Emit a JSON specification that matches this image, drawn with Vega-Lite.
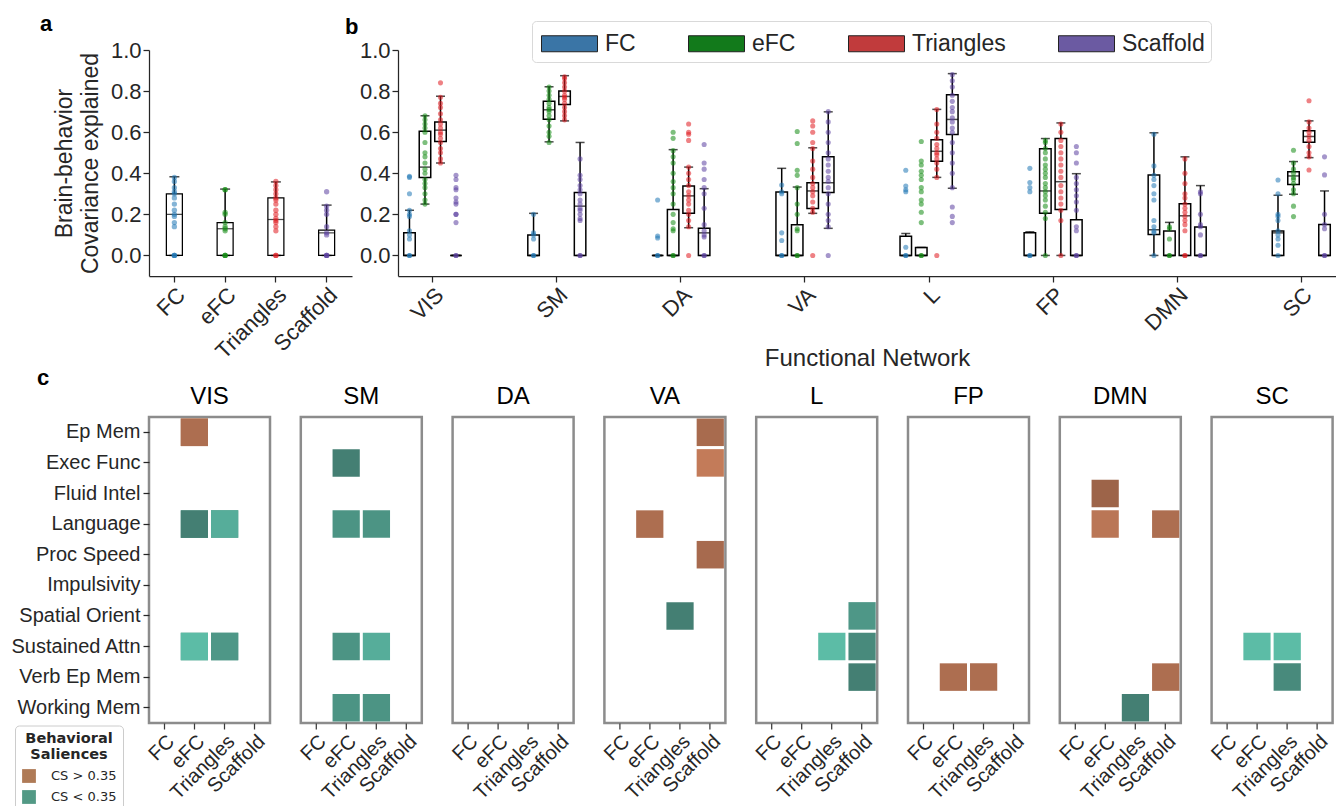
{
"$schema": "https://vega.github.io/schema/vega-lite/v6.json",
"background": "white",
"padding": {"left": 8, "top": 13, "right": 0, "bottom": 0},
"config": {
  "font": "Liberation Sans",
  "view": {"stroke": "#8c8c8c", "strokeWidth": 2.5},
  "axis": {"labelColor": "#262626", "titleColor": "#262626", "tickColor": "#262626", "domainColor": "#262626", "grid": false, "labelFont": "Liberation Sans", "titleFont": "Liberation Sans", "titleFontWeight": "normal", "tickWidth": 1.25, "domainWidth": 1.25, "tickSize": 6},
  "title": {"font": "Liberation Sans", "color": "#000000"},
  "legend": {"labelFont": "Liberation Sans", "titleFont": "Liberation Sans"}
},
"datasets": {
  "boxesA": [
    {"method": "FC", "lower": 0, "q1": 0, "median": 0.2, "q3": 0.3, "upper": 0.383},
    {"method": "eFC", "lower": 0, "q1": 0, "median": 0.13, "q3": 0.16, "upper": 0.323},
    {"method": "Triangles", "lower": 0, "q1": 0, "median": 0.175, "q3": 0.28, "upper": 0.358},
    {"method": "Scaffold", "lower": 0, "q1": 0, "median": 0.11, "q3": 0.123, "upper": 0.245}
  ],
  "ptsA": [
    {"method": "FC", "v": 0}, {"method": "FC", "v": 0}, {"method": "FC", "v": 0}, {"method": "FC", "v": 0.14}, {"method": "FC", "v": 0.16}, {"method": "FC", "v": 0.19}, {"method": "FC", "v": 0.2}, {"method": "FC", "v": 0.22}, {"method": "FC", "v": 0.25}, {"method": "FC", "v": 0.28}, {"method": "FC", "v": 0.3}, {"method": "FC", "v": 0.31}, {"method": "FC", "v": 0.33}, {"method": "FC", "v": 0.36}, {"method": "FC", "v": 0.38},
    {"method": "eFC", "v": 0}, {"method": "eFC", "v": 0}, {"method": "eFC", "v": 0}, {"method": "eFC", "v": 0.12}, {"method": "eFC", "v": 0.13}, {"method": "eFC", "v": 0.14}, {"method": "eFC", "v": 0.16}, {"method": "eFC", "v": 0.2}, {"method": "eFC", "v": 0.21}, {"method": "eFC", "v": 0.32}, {"method": "eFC", "v": 0.32},
    {"method": "Triangles", "v": 0}, {"method": "Triangles", "v": 0}, {"method": "Triangles", "v": 0.12}, {"method": "Triangles", "v": 0.14}, {"method": "Triangles", "v": 0.16}, {"method": "Triangles", "v": 0.17}, {"method": "Triangles", "v": 0.18}, {"method": "Triangles", "v": 0.2}, {"method": "Triangles", "v": 0.22}, {"method": "Triangles", "v": 0.25}, {"method": "Triangles", "v": 0.27}, {"method": "Triangles", "v": 0.28}, {"method": "Triangles", "v": 0.3}, {"method": "Triangles", "v": 0.32}, {"method": "Triangles", "v": 0.34}, {"method": "Triangles", "v": 0.36},
    {"method": "Scaffold", "v": 0}, {"method": "Scaffold", "v": 0}, {"method": "Scaffold", "v": 0}, {"method": "Scaffold", "v": 0.1}, {"method": "Scaffold", "v": 0.11}, {"method": "Scaffold", "v": 0.14}, {"method": "Scaffold", "v": 0.2}, {"method": "Scaffold", "v": 0.22}, {"method": "Scaffold", "v": 0.24}, {"method": "Scaffold", "v": 0.31}
  ],
  "boxes": [
    {"net": "VIS", "method": "FC", "lower": 0, "q1": 0, "median": 0, "q3": 0.11, "upper": 0.22},
    {"net": "VIS", "method": "eFC", "lower": 0.25, "q1": 0.38, "median": 0.43, "q3": 0.605, "upper": 0.68},
    {"net": "VIS", "method": "Triangles", "lower": 0.45, "q1": 0.555, "median": 0.61, "q3": 0.65, "upper": 0.775},
    {"net": "VIS", "method": "Scaffold", "lower": 0, "q1": 0, "median": 0, "q3": 0, "upper": 0},
    {"net": "SM", "method": "FC", "lower": 0, "q1": 0, "median": 0, "q3": 0.1, "upper": 0.205},
    {"net": "SM", "method": "eFC", "lower": 0.553, "q1": 0.663, "median": 0.709, "q3": 0.75, "upper": 0.821},
    {"net": "SM", "method": "Triangles", "lower": 0.655, "q1": 0.735, "median": 0.774, "q3": 0.8, "upper": 0.875},
    {"net": "SM", "method": "Scaffold", "lower": 0, "q1": 0, "median": 0.24, "q3": 0.306, "upper": 0.55},
    {"net": "DA", "method": "FC", "lower": 0, "q1": 0, "median": 0, "q3": 0, "upper": 0},
    {"net": "DA", "method": "eFC", "lower": 0, "q1": 0, "median": 0, "q3": 0.224, "upper": 0.515},
    {"net": "DA", "method": "Triangles", "lower": 0.135, "q1": 0.205, "median": 0.29, "q3": 0.338, "upper": 0.43},
    {"net": "DA", "method": "Scaffold", "lower": 0, "q1": 0, "median": 0.11, "q3": 0.132, "upper": 0.325},
    {"net": "VA", "method": "FC", "lower": 0, "q1": 0, "median": 0, "q3": 0.309, "upper": 0.424},
    {"net": "VA", "method": "eFC", "lower": 0, "q1": 0, "median": 0, "q3": 0.15, "upper": 0.333},
    {"net": "VA", "method": "Triangles", "lower": 0.205, "q1": 0.229, "median": 0.314, "q3": 0.354, "upper": 0.524},
    {"net": "VA", "method": "Scaffold", "lower": 0.132, "q1": 0.306, "median": 0.354, "q3": 0.48, "upper": 0.699},
    {"net": "L", "method": "FC", "lower": 0, "q1": 0, "median": 0, "q3": 0.094, "upper": 0.107},
    {"net": "L", "method": "eFC", "lower": 0, "q1": 0, "median": 0, "q3": 0.039, "upper": 0.039},
    {"net": "L", "method": "Triangles", "lower": 0.38, "q1": 0.459, "median": 0.507, "q3": 0.563, "upper": 0.711},
    {"net": "L", "method": "Scaffold", "lower": 0.327, "q1": 0.589, "median": 0.662, "q3": 0.782, "upper": 0.885},
    {"net": "FP", "method": "FC", "lower": 0, "q1": 0, "median": 0, "q3": 0.11, "upper": 0.115},
    {"net": "FP", "method": "eFC", "lower": 0, "q1": 0.205, "median": 0.314, "q3": 0.519, "upper": 0.569},
    {"net": "FP", "method": "Triangles", "lower": 0, "q1": 0.224, "median": 0.359, "q3": 0.569, "upper": 0.645},
    {"net": "FP", "method": "Scaffold", "lower": 0, "q1": 0, "median": 0, "q3": 0.174, "upper": 0.398},
    {"net": "DMN", "method": "FC", "lower": 0, "q1": 0.102, "median": 0.125, "q3": 0.392, "upper": 0.597},
    {"net": "DMN", "method": "eFC", "lower": 0, "q1": 0, "median": 0, "q3": 0.119, "upper": 0.161},
    {"net": "DMN", "method": "Triangles", "lower": 0, "q1": 0, "median": 0.193, "q3": 0.252, "upper": 0.48},
    {"net": "DMN", "method": "Scaffold", "lower": 0, "q1": 0, "median": 0, "q3": 0.138, "upper": 0.34},
    {"net": "SC", "method": "FC", "lower": 0, "q1": 0, "median": 0.11, "q3": 0.119, "upper": 0.293},
    {"net": "SC", "method": "eFC", "lower": 0.298, "q1": 0.345, "median": 0.387, "q3": 0.408, "upper": 0.457},
    {"net": "SC", "method": "Triangles", "lower": 0.476, "q1": 0.551, "median": 0.579, "q3": 0.607, "upper": 0.655},
    {"net": "SC", "method": "Scaffold", "lower": 0, "q1": 0, "median": 0, "q3": 0.151, "upper": 0.314}
  ],
  "pts": [
    {"net": "VIS", "method": "FC", "v": 0}, {"net": "VIS", "method": "FC", "v": 0}, {"net": "VIS", "method": "FC", "v": 0.08}, {"net": "VIS", "method": "FC", "v": 0.1}, {"net": "VIS", "method": "FC", "v": 0.12}, {"net": "VIS", "method": "FC", "v": 0.19}, {"net": "VIS", "method": "FC", "v": 0.2}, {"net": "VIS", "method": "FC", "v": 0.22}, {"net": "VIS", "method": "FC", "v": 0.3}, {"net": "VIS", "method": "FC", "v": 0.38}, {"net": "VIS", "method": "FC", "v": 0.385},
    {"net": "VIS", "method": "eFC", "v": 0.25}, {"net": "VIS", "method": "eFC", "v": 0.27}, {"net": "VIS", "method": "eFC", "v": 0.3}, {"net": "VIS", "method": "eFC", "v": 0.33}, {"net": "VIS", "method": "eFC", "v": 0.35}, {"net": "VIS", "method": "eFC", "v": 0.37}, {"net": "VIS", "method": "eFC", "v": 0.4}, {"net": "VIS", "method": "eFC", "v": 0.42}, {"net": "VIS", "method": "eFC", "v": 0.45}, {"net": "VIS", "method": "eFC", "v": 0.48}, {"net": "VIS", "method": "eFC", "v": 0.5}, {"net": "VIS", "method": "eFC", "v": 0.55}, {"net": "VIS", "method": "eFC", "v": 0.6}, {"net": "VIS", "method": "eFC", "v": 0.62}, {"net": "VIS", "method": "eFC", "v": 0.64}, {"net": "VIS", "method": "eFC", "v": 0.66}, {"net": "VIS", "method": "eFC", "v": 0.68},
    {"net": "VIS", "method": "Triangles", "v": 0.45}, {"net": "VIS", "method": "Triangles", "v": 0.47}, {"net": "VIS", "method": "Triangles", "v": 0.5}, {"net": "VIS", "method": "Triangles", "v": 0.52}, {"net": "VIS", "method": "Triangles", "v": 0.55}, {"net": "VIS", "method": "Triangles", "v": 0.57}, {"net": "VIS", "method": "Triangles", "v": 0.59}, {"net": "VIS", "method": "Triangles", "v": 0.6}, {"net": "VIS", "method": "Triangles", "v": 0.62}, {"net": "VIS", "method": "Triangles", "v": 0.64}, {"net": "VIS", "method": "Triangles", "v": 0.66}, {"net": "VIS", "method": "Triangles", "v": 0.69}, {"net": "VIS", "method": "Triangles", "v": 0.72}, {"net": "VIS", "method": "Triangles", "v": 0.74}, {"net": "VIS", "method": "Triangles", "v": 0.77}, {"net": "VIS", "method": "Triangles", "v": 0.84},
    {"net": "VIS", "method": "Scaffold", "v": 0}, {"net": "VIS", "method": "Scaffold", "v": 0}, {"net": "VIS", "method": "Scaffold", "v": 0.16}, {"net": "VIS", "method": "Scaffold", "v": 0.2}, {"net": "VIS", "method": "Scaffold", "v": 0.2}, {"net": "VIS", "method": "Scaffold", "v": 0.25}, {"net": "VIS", "method": "Scaffold", "v": 0.26}, {"net": "VIS", "method": "Scaffold", "v": 0.28}, {"net": "VIS", "method": "Scaffold", "v": 0.32}, {"net": "VIS", "method": "Scaffold", "v": 0.33}, {"net": "VIS", "method": "Scaffold", "v": 0.37}, {"net": "VIS", "method": "Scaffold", "v": 0.39},
    {"net": "SM", "method": "FC", "v": 0}, {"net": "SM", "method": "FC", "v": 0}, {"net": "SM", "method": "FC", "v": 0.08}, {"net": "SM", "method": "FC", "v": 0.1}, {"net": "SM", "method": "FC", "v": 0.11}, {"net": "SM", "method": "FC", "v": 0.2},
    {"net": "SM", "method": "eFC", "v": 0.55}, {"net": "SM", "method": "eFC", "v": 0.58}, {"net": "SM", "method": "eFC", "v": 0.6}, {"net": "SM", "method": "eFC", "v": 0.63}, {"net": "SM", "method": "eFC", "v": 0.66}, {"net": "SM", "method": "eFC", "v": 0.68}, {"net": "SM", "method": "eFC", "v": 0.7}, {"net": "SM", "method": "eFC", "v": 0.71}, {"net": "SM", "method": "eFC", "v": 0.72}, {"net": "SM", "method": "eFC", "v": 0.74}, {"net": "SM", "method": "eFC", "v": 0.76}, {"net": "SM", "method": "eFC", "v": 0.78}, {"net": "SM", "method": "eFC", "v": 0.8}, {"net": "SM", "method": "eFC", "v": 0.82},
    {"net": "SM", "method": "Triangles", "v": 0.66}, {"net": "SM", "method": "Triangles", "v": 0.68}, {"net": "SM", "method": "Triangles", "v": 0.7}, {"net": "SM", "method": "Triangles", "v": 0.72}, {"net": "SM", "method": "Triangles", "v": 0.74}, {"net": "SM", "method": "Triangles", "v": 0.76}, {"net": "SM", "method": "Triangles", "v": 0.77}, {"net": "SM", "method": "Triangles", "v": 0.78}, {"net": "SM", "method": "Triangles", "v": 0.8}, {"net": "SM", "method": "Triangles", "v": 0.82}, {"net": "SM", "method": "Triangles", "v": 0.84}, {"net": "SM", "method": "Triangles", "v": 0.86}, {"net": "SM", "method": "Triangles", "v": 0.87},
    {"net": "SM", "method": "Scaffold", "v": 0}, {"net": "SM", "method": "Scaffold", "v": 0}, {"net": "SM", "method": "Scaffold", "v": 0.17}, {"net": "SM", "method": "Scaffold", "v": 0.18}, {"net": "SM", "method": "Scaffold", "v": 0.2}, {"net": "SM", "method": "Scaffold", "v": 0.22}, {"net": "SM", "method": "Scaffold", "v": 0.23}, {"net": "SM", "method": "Scaffold", "v": 0.25}, {"net": "SM", "method": "Scaffold", "v": 0.27}, {"net": "SM", "method": "Scaffold", "v": 0.3}, {"net": "SM", "method": "Scaffold", "v": 0.32}, {"net": "SM", "method": "Scaffold", "v": 0.34}, {"net": "SM", "method": "Scaffold", "v": 0.37}, {"net": "SM", "method": "Scaffold", "v": 0.39}, {"net": "SM", "method": "Scaffold", "v": 0.47},
    {"net": "DA", "method": "FC", "v": 0}, {"net": "DA", "method": "FC", "v": 0}, {"net": "DA", "method": "FC", "v": 0.085}, {"net": "DA", "method": "FC", "v": 0.095}, {"net": "DA", "method": "FC", "v": 0.27},
    {"net": "DA", "method": "eFC", "v": 0}, {"net": "DA", "method": "eFC", "v": 0}, {"net": "DA", "method": "eFC", "v": 0.12}, {"net": "DA", "method": "eFC", "v": 0.13}, {"net": "DA", "method": "eFC", "v": 0.16}, {"net": "DA", "method": "eFC", "v": 0.2}, {"net": "DA", "method": "eFC", "v": 0.25}, {"net": "DA", "method": "eFC", "v": 0.3}, {"net": "DA", "method": "eFC", "v": 0.33}, {"net": "DA", "method": "eFC", "v": 0.36}, {"net": "DA", "method": "eFC", "v": 0.4}, {"net": "DA", "method": "eFC", "v": 0.45}, {"net": "DA", "method": "eFC", "v": 0.48}, {"net": "DA", "method": "eFC", "v": 0.51}, {"net": "DA", "method": "eFC", "v": 0.57}, {"net": "DA", "method": "eFC", "v": 0.6},
    {"net": "DA", "method": "Triangles", "v": 0}, {"net": "DA", "method": "Triangles", "v": 0.14}, {"net": "DA", "method": "Triangles", "v": 0.17}, {"net": "DA", "method": "Triangles", "v": 0.2}, {"net": "DA", "method": "Triangles", "v": 0.22}, {"net": "DA", "method": "Triangles", "v": 0.25}, {"net": "DA", "method": "Triangles", "v": 0.27}, {"net": "DA", "method": "Triangles", "v": 0.29}, {"net": "DA", "method": "Triangles", "v": 0.31}, {"net": "DA", "method": "Triangles", "v": 0.34}, {"net": "DA", "method": "Triangles", "v": 0.37}, {"net": "DA", "method": "Triangles", "v": 0.4}, {"net": "DA", "method": "Triangles", "v": 0.43}, {"net": "DA", "method": "Triangles", "v": 0.56}, {"net": "DA", "method": "Triangles", "v": 0.59}, {"net": "DA", "method": "Triangles", "v": 0.6}, {"net": "DA", "method": "Triangles", "v": 0.64},
    {"net": "DA", "method": "Scaffold", "v": 0}, {"net": "DA", "method": "Scaffold", "v": 0}, {"net": "DA", "method": "Scaffold", "v": 0.09}, {"net": "DA", "method": "Scaffold", "v": 0.1}, {"net": "DA", "method": "Scaffold", "v": 0.12}, {"net": "DA", "method": "Scaffold", "v": 0.15}, {"net": "DA", "method": "Scaffold", "v": 0.23}, {"net": "DA", "method": "Scaffold", "v": 0.3}, {"net": "DA", "method": "Scaffold", "v": 0.33}, {"net": "DA", "method": "Scaffold", "v": 0.37}, {"net": "DA", "method": "Scaffold", "v": 0.42}, {"net": "DA", "method": "Scaffold", "v": 0.45}, {"net": "DA", "method": "Scaffold", "v": 0.54},
    {"net": "VA", "method": "FC", "v": 0}, {"net": "VA", "method": "FC", "v": 0}, {"net": "VA", "method": "FC", "v": 0.073}, {"net": "VA", "method": "FC", "v": 0.11}, {"net": "VA", "method": "FC", "v": 0.3}, {"net": "VA", "method": "FC", "v": 0.31}, {"net": "VA", "method": "FC", "v": 0.343},
    {"net": "VA", "method": "eFC", "v": 0}, {"net": "VA", "method": "eFC", "v": 0}, {"net": "VA", "method": "eFC", "v": 0.12}, {"net": "VA", "method": "eFC", "v": 0.13}, {"net": "VA", "method": "eFC", "v": 0.2}, {"net": "VA", "method": "eFC", "v": 0.25}, {"net": "VA", "method": "eFC", "v": 0.33}, {"net": "VA", "method": "eFC", "v": 0.39}, {"net": "VA", "method": "eFC", "v": 0.415}, {"net": "VA", "method": "eFC", "v": 0.545}, {"net": "VA", "method": "eFC", "v": 0.603},
    {"net": "VA", "method": "Triangles", "v": 0}, {"net": "VA", "method": "Triangles", "v": 0.21}, {"net": "VA", "method": "Triangles", "v": 0.23}, {"net": "VA", "method": "Triangles", "v": 0.26}, {"net": "VA", "method": "Triangles", "v": 0.29}, {"net": "VA", "method": "Triangles", "v": 0.31}, {"net": "VA", "method": "Triangles", "v": 0.33}, {"net": "VA", "method": "Triangles", "v": 0.35}, {"net": "VA", "method": "Triangles", "v": 0.38}, {"net": "VA", "method": "Triangles", "v": 0.42}, {"net": "VA", "method": "Triangles", "v": 0.46}, {"net": "VA", "method": "Triangles", "v": 0.52}, {"net": "VA", "method": "Triangles", "v": 0.55}, {"net": "VA", "method": "Triangles", "v": 0.6}, {"net": "VA", "method": "Triangles", "v": 0.63}, {"net": "VA", "method": "Triangles", "v": 0.655},
    {"net": "VA", "method": "Scaffold", "v": 0}, {"net": "VA", "method": "Scaffold", "v": 0.14}, {"net": "VA", "method": "Scaffold", "v": 0.17}, {"net": "VA", "method": "Scaffold", "v": 0.2}, {"net": "VA", "method": "Scaffold", "v": 0.25}, {"net": "VA", "method": "Scaffold", "v": 0.3}, {"net": "VA", "method": "Scaffold", "v": 0.33}, {"net": "VA", "method": "Scaffold", "v": 0.36}, {"net": "VA", "method": "Scaffold", "v": 0.38}, {"net": "VA", "method": "Scaffold", "v": 0.41}, {"net": "VA", "method": "Scaffold", "v": 0.44}, {"net": "VA", "method": "Scaffold", "v": 0.47}, {"net": "VA", "method": "Scaffold", "v": 0.5}, {"net": "VA", "method": "Scaffold", "v": 0.55}, {"net": "VA", "method": "Scaffold", "v": 0.6}, {"net": "VA", "method": "Scaffold", "v": 0.65}, {"net": "VA", "method": "Scaffold", "v": 0.7},
    {"net": "L", "method": "FC", "v": 0}, {"net": "L", "method": "FC", "v": 0}, {"net": "L", "method": "FC", "v": 0.04}, {"net": "L", "method": "FC", "v": 0.31}, {"net": "L", "method": "FC", "v": 0.32}, {"net": "L", "method": "FC", "v": 0.338}, {"net": "L", "method": "FC", "v": 0.415},
    {"net": "L", "method": "eFC", "v": 0}, {"net": "L", "method": "eFC", "v": 0}, {"net": "L", "method": "eFC", "v": 0.16}, {"net": "L", "method": "eFC", "v": 0.21}, {"net": "L", "method": "eFC", "v": 0.25}, {"net": "L", "method": "eFC", "v": 0.27}, {"net": "L", "method": "eFC", "v": 0.31}, {"net": "L", "method": "eFC", "v": 0.33}, {"net": "L", "method": "eFC", "v": 0.37}, {"net": "L", "method": "eFC", "v": 0.39}, {"net": "L", "method": "eFC", "v": 0.41}, {"net": "L", "method": "eFC", "v": 0.44}, {"net": "L", "method": "eFC", "v": 0.46}, {"net": "L", "method": "eFC", "v": 0.555},
    {"net": "L", "method": "Triangles", "v": 0}, {"net": "L", "method": "Triangles", "v": 0.38}, {"net": "L", "method": "Triangles", "v": 0.42}, {"net": "L", "method": "Triangles", "v": 0.45}, {"net": "L", "method": "Triangles", "v": 0.47}, {"net": "L", "method": "Triangles", "v": 0.49}, {"net": "L", "method": "Triangles", "v": 0.5}, {"net": "L", "method": "Triangles", "v": 0.52}, {"net": "L", "method": "Triangles", "v": 0.54}, {"net": "L", "method": "Triangles", "v": 0.57}, {"net": "L", "method": "Triangles", "v": 0.6}, {"net": "L", "method": "Triangles", "v": 0.64}, {"net": "L", "method": "Triangles", "v": 0.71},
    {"net": "L", "method": "Scaffold", "v": 0.16}, {"net": "L", "method": "Scaffold", "v": 0.19}, {"net": "L", "method": "Scaffold", "v": 0.236}, {"net": "L", "method": "Scaffold", "v": 0.33}, {"net": "L", "method": "Scaffold", "v": 0.4}, {"net": "L", "method": "Scaffold", "v": 0.45}, {"net": "L", "method": "Scaffold", "v": 0.5}, {"net": "L", "method": "Scaffold", "v": 0.55}, {"net": "L", "method": "Scaffold", "v": 0.6}, {"net": "L", "method": "Scaffold", "v": 0.62}, {"net": "L", "method": "Scaffold", "v": 0.65}, {"net": "L", "method": "Scaffold", "v": 0.67}, {"net": "L", "method": "Scaffold", "v": 0.7}, {"net": "L", "method": "Scaffold", "v": 0.72}, {"net": "L", "method": "Scaffold", "v": 0.75}, {"net": "L", "method": "Scaffold", "v": 0.78}, {"net": "L", "method": "Scaffold", "v": 0.82}, {"net": "L", "method": "Scaffold", "v": 0.85}, {"net": "L", "method": "Scaffold", "v": 0.88},
    {"net": "FP", "method": "FC", "v": 0}, {"net": "FP", "method": "FC", "v": 0}, {"net": "FP", "method": "FC", "v": 0.31}, {"net": "FP", "method": "FC", "v": 0.33}, {"net": "FP", "method": "FC", "v": 0.355}, {"net": "FP", "method": "FC", "v": 0.424},
    {"net": "FP", "method": "eFC", "v": 0}, {"net": "FP", "method": "eFC", "v": 0.18}, {"net": "FP", "method": "eFC", "v": 0.21}, {"net": "FP", "method": "eFC", "v": 0.24}, {"net": "FP", "method": "eFC", "v": 0.27}, {"net": "FP", "method": "eFC", "v": 0.29}, {"net": "FP", "method": "eFC", "v": 0.31}, {"net": "FP", "method": "eFC", "v": 0.33}, {"net": "FP", "method": "eFC", "v": 0.35}, {"net": "FP", "method": "eFC", "v": 0.38}, {"net": "FP", "method": "eFC", "v": 0.4}, {"net": "FP", "method": "eFC", "v": 0.42}, {"net": "FP", "method": "eFC", "v": 0.44}, {"net": "FP", "method": "eFC", "v": 0.47}, {"net": "FP", "method": "eFC", "v": 0.5}, {"net": "FP", "method": "eFC", "v": 0.52}, {"net": "FP", "method": "eFC", "v": 0.55}, {"net": "FP", "method": "eFC", "v": 0.56},
    {"net": "FP", "method": "Triangles", "v": 0}, {"net": "FP", "method": "Triangles", "v": 0.17}, {"net": "FP", "method": "Triangles", "v": 0.22}, {"net": "FP", "method": "Triangles", "v": 0.25}, {"net": "FP", "method": "Triangles", "v": 0.28}, {"net": "FP", "method": "Triangles", "v": 0.31}, {"net": "FP", "method": "Triangles", "v": 0.34}, {"net": "FP", "method": "Triangles", "v": 0.38}, {"net": "FP", "method": "Triangles", "v": 0.41}, {"net": "FP", "method": "Triangles", "v": 0.44}, {"net": "FP", "method": "Triangles", "v": 0.47}, {"net": "FP", "method": "Triangles", "v": 0.5}, {"net": "FP", "method": "Triangles", "v": 0.53}, {"net": "FP", "method": "Triangles", "v": 0.56}, {"net": "FP", "method": "Triangles", "v": 0.6}, {"net": "FP", "method": "Triangles", "v": 0.64},
    {"net": "FP", "method": "Scaffold", "v": 0}, {"net": "FP", "method": "Scaffold", "v": 0}, {"net": "FP", "method": "Scaffold", "v": 0.12}, {"net": "FP", "method": "Scaffold", "v": 0.14}, {"net": "FP", "method": "Scaffold", "v": 0.22}, {"net": "FP", "method": "Scaffold", "v": 0.26}, {"net": "FP", "method": "Scaffold", "v": 0.29}, {"net": "FP", "method": "Scaffold", "v": 0.32}, {"net": "FP", "method": "Scaffold", "v": 0.35}, {"net": "FP", "method": "Scaffold", "v": 0.38}, {"net": "FP", "method": "Scaffold", "v": 0.45}, {"net": "FP", "method": "Scaffold", "v": 0.5}, {"net": "FP", "method": "Scaffold", "v": 0.53},
    {"net": "DMN", "method": "FC", "v": 0}, {"net": "DMN", "method": "FC", "v": 0.11}, {"net": "DMN", "method": "FC", "v": 0.12}, {"net": "DMN", "method": "FC", "v": 0.14}, {"net": "DMN", "method": "FC", "v": 0.17}, {"net": "DMN", "method": "FC", "v": 0.27}, {"net": "DMN", "method": "FC", "v": 0.3}, {"net": "DMN", "method": "FC", "v": 0.34}, {"net": "DMN", "method": "FC", "v": 0.37}, {"net": "DMN", "method": "FC", "v": 0.39}, {"net": "DMN", "method": "FC", "v": 0.436}, {"net": "DMN", "method": "FC", "v": 0.59},
    {"net": "DMN", "method": "eFC", "v": 0}, {"net": "DMN", "method": "eFC", "v": 0}, {"net": "DMN", "method": "eFC", "v": 0.08}, {"net": "DMN", "method": "eFC", "v": 0.13}, {"net": "DMN", "method": "eFC", "v": 0.14},
    {"net": "DMN", "method": "Triangles", "v": 0}, {"net": "DMN", "method": "Triangles", "v": 0}, {"net": "DMN", "method": "Triangles", "v": 0.12}, {"net": "DMN", "method": "Triangles", "v": 0.15}, {"net": "DMN", "method": "Triangles", "v": 0.17}, {"net": "DMN", "method": "Triangles", "v": 0.19}, {"net": "DMN", "method": "Triangles", "v": 0.21}, {"net": "DMN", "method": "Triangles", "v": 0.23}, {"net": "DMN", "method": "Triangles", "v": 0.25}, {"net": "DMN", "method": "Triangles", "v": 0.28}, {"net": "DMN", "method": "Triangles", "v": 0.3}, {"net": "DMN", "method": "Triangles", "v": 0.35}, {"net": "DMN", "method": "Triangles", "v": 0.4}, {"net": "DMN", "method": "Triangles", "v": 0.47},
    {"net": "DMN", "method": "Scaffold", "v": 0}, {"net": "DMN", "method": "Scaffold", "v": 0}, {"net": "DMN", "method": "Scaffold", "v": 0.1}, {"net": "DMN", "method": "Scaffold", "v": 0.14}, {"net": "DMN", "method": "Scaffold", "v": 0.15}, {"net": "DMN", "method": "Scaffold", "v": 0.2}, {"net": "DMN", "method": "Scaffold", "v": 0.3}, {"net": "DMN", "method": "Scaffold", "v": 0.31},
    {"net": "SC", "method": "FC", "v": 0}, {"net": "SC", "method": "FC", "v": 0.05}, {"net": "SC", "method": "FC", "v": 0.08}, {"net": "SC", "method": "FC", "v": 0.1}, {"net": "SC", "method": "FC", "v": 0.12}, {"net": "SC", "method": "FC", "v": 0.17}, {"net": "SC", "method": "FC", "v": 0.19}, {"net": "SC", "method": "FC", "v": 0.2}, {"net": "SC", "method": "FC", "v": 0.3}, {"net": "SC", "method": "FC", "v": 0.367},
    {"net": "SC", "method": "eFC", "v": 0.189}, {"net": "SC", "method": "eFC", "v": 0.24}, {"net": "SC", "method": "eFC", "v": 0.3}, {"net": "SC", "method": "eFC", "v": 0.32}, {"net": "SC", "method": "eFC", "v": 0.35}, {"net": "SC", "method": "eFC", "v": 0.37}, {"net": "SC", "method": "eFC", "v": 0.38}, {"net": "SC", "method": "eFC", "v": 0.4}, {"net": "SC", "method": "eFC", "v": 0.42}, {"net": "SC", "method": "eFC", "v": 0.45}, {"net": "SC", "method": "eFC", "v": 0.512},
    {"net": "SC", "method": "Triangles", "v": 0.416}, {"net": "SC", "method": "Triangles", "v": 0.48}, {"net": "SC", "method": "Triangles", "v": 0.5}, {"net": "SC", "method": "Triangles", "v": 0.53}, {"net": "SC", "method": "Triangles", "v": 0.56}, {"net": "SC", "method": "Triangles", "v": 0.58}, {"net": "SC", "method": "Triangles", "v": 0.6}, {"net": "SC", "method": "Triangles", "v": 0.62}, {"net": "SC", "method": "Triangles", "v": 0.65}, {"net": "SC", "method": "Triangles", "v": 0.753},
    {"net": "SC", "method": "Scaffold", "v": 0}, {"net": "SC", "method": "Scaffold", "v": 0}, {"net": "SC", "method": "Scaffold", "v": 0.13}, {"net": "SC", "method": "Scaffold", "v": 0.15}, {"net": "SC", "method": "Scaffold", "v": 0.2}, {"net": "SC", "method": "Scaffold", "v": 0.392}, {"net": "SC", "method": "Scaffold", "v": 0.48}
  ],
  "heat": [
    {"net": "VIS", "beh": "Ep Mem", "method": "eFC", "cs": 0.52, "sal": "CS > 0.35"},
    {"net": "VIS", "beh": "Language", "method": "eFC", "cs": 0.325, "sal": "CS < 0.35"},
    {"net": "VIS", "beh": "Language", "method": "Triangles", "cs": 0.125, "sal": "CS < 0.35"},
    {"net": "VIS", "beh": "Sustained Attn", "method": "eFC", "cs": 0.06, "sal": "CS < 0.35"},
    {"net": "VIS", "beh": "Sustained Attn", "method": "Triangles", "cs": 0.22, "sal": "CS < 0.35"},
    {"net": "SM", "beh": "Exec Func", "method": "eFC", "cs": 0.325, "sal": "CS < 0.35"},
    {"net": "SM", "beh": "Language", "method": "eFC", "cs": 0.235, "sal": "CS < 0.35"},
    {"net": "SM", "beh": "Language", "method": "Triangles", "cs": 0.235, "sal": "CS < 0.35"},
    {"net": "SM", "beh": "Sustained Attn", "method": "eFC", "cs": 0.235, "sal": "CS < 0.35"},
    {"net": "SM", "beh": "Sustained Attn", "method": "Triangles", "cs": 0.125, "sal": "CS < 0.35"},
    {"net": "SM", "beh": "Working Mem", "method": "eFC", "cs": 0.235, "sal": "CS < 0.35"},
    {"net": "SM", "beh": "Working Mem", "method": "Triangles", "cs": 0.235, "sal": "CS < 0.35"},
    {"net": "VA", "beh": "Ep Mem", "method": "Scaffold", "cs": 0.55, "sal": "CS > 0.35"},
    {"net": "VA", "beh": "Exec Func", "method": "Scaffold", "cs": 0.37, "sal": "CS > 0.35"},
    {"net": "VA", "beh": "Language", "method": "eFC", "cs": 0.52, "sal": "CS > 0.35"},
    {"net": "VA", "beh": "Proc Speed", "method": "Scaffold", "cs": 0.56, "sal": "CS > 0.35"},
    {"net": "VA", "beh": "Spatial Orient", "method": "Triangles", "cs": 0.325, "sal": "CS < 0.35"},
    {"net": "L", "beh": "Spatial Orient", "method": "Scaffold", "cs": 0.22, "sal": "CS < 0.35"},
    {"net": "L", "beh": "Sustained Attn", "method": "Triangles", "cs": 0.06, "sal": "CS < 0.35"},
    {"net": "L", "beh": "Sustained Attn", "method": "Scaffold", "cs": 0.28, "sal": "CS < 0.35"},
    {"net": "L", "beh": "Verb Ep Mem", "method": "Scaffold", "cs": 0.325, "sal": "CS < 0.35"},
    {"net": "FP", "beh": "Verb Ep Mem", "method": "eFC", "cs": 0.52, "sal": "CS > 0.35"},
    {"net": "FP", "beh": "Verb Ep Mem", "method": "Triangles", "cs": 0.52, "sal": "CS > 0.35"},
    {"net": "DMN", "beh": "Fluid Intel", "method": "eFC", "cs": 0.63, "sal": "CS > 0.35"},
    {"net": "DMN", "beh": "Language", "method": "eFC", "cs": 0.43, "sal": "CS > 0.35"},
    {"net": "DMN", "beh": "Language", "method": "Scaffold", "cs": 0.52, "sal": "CS > 0.35"},
    {"net": "DMN", "beh": "Verb Ep Mem", "method": "Scaffold", "cs": 0.52, "sal": "CS > 0.35"},
    {"net": "DMN", "beh": "Working Mem", "method": "Triangles", "cs": 0.325, "sal": "CS < 0.35"},
    {"net": "SC", "beh": "Sustained Attn", "method": "eFC", "cs": 0.06, "sal": "CS < 0.35"},
    {"net": "SC", "beh": "Sustained Attn", "method": "Triangles", "cs": 0.06, "sal": "CS < 0.35"},
    {"net": "SC", "beh": "Verb Ep Mem", "method": "Triangles", "cs": 0.28, "sal": "CS < 0.35"}
  ]
},
"vconcat": [
  {
    "hconcat": [
      {
        "width": 203, "height": 226,
        "view": {"stroke": null},
        "title": {"text": "a", "anchor": "start", "frame": "group", "dx": -109, "fontSize": 22, "fontWeight": "bold", "offset": 3},
        "encoding": {"x": {"field": "method", "type": "nominal", "scale": {"domain": ["FC", "eFC", "Triangles", "Scaffold"], "paddingInner": 0, "paddingOuter": 0}, "axis": {"title": null, "labelAngle": -45, "labelAlign": "right", "labelBaseline": "top", "labelFontSize": 22, "labelPadding": 2}}},
        "layer": [
          {"data": {"name": "boxesA"}, "mark": {"type": "rule", "color": "black", "strokeWidth": 1.5},
           "encoding": {"y": {"field": "q3", "type": "quantitative", "scale": {"domain": [-0.1, 1.0], "nice": false, "zero": false}, "axis": {"title": ["Brain-behavior", "Covariance explained"], "titleFontSize": 23, "titleLineHeight": 26, "labelFontSize": 22, "values": [0, 0.2, 0.4, 0.6, 0.8, 1.0], "format": ".1f", "titlePadding": 8}}, "y2": {"field": "upper"}}},
          {"data": {"name": "boxesA"}, "mark": {"type": "rule", "color": "black", "strokeWidth": 1.5},
           "encoding": {"y": {"field": "lower", "type": "quantitative", "scale": {"domain": [-0.1, 1.0], "nice": false, "zero": false}}, "y2": {"field": "q1"}}},
          {"data": {"name": "boxesA"}, "mark": {"type": "tick", "color": "black", "thickness": 1.5, "size": 10},
           "encoding": {"y": {"field": "upper", "type": "quantitative", "scale": {"domain": [-0.1, 1.0], "nice": false, "zero": false}}}},
          {"data": {"name": "boxesA"}, "mark": {"type": "tick", "color": "black", "thickness": 1.5, "size": 10},
           "encoding": {"y": {"field": "lower", "type": "quantitative", "scale": {"domain": [-0.1, 1.0], "nice": false, "zero": false}}}},
          {"data": {"name": "boxesA"}, "mark": {"type": "tick", "color": "black", "thickness": 1.25, "size": 16},
           "encoding": {"y": {"field": "median", "type": "quantitative", "scale": {"domain": [-0.1, 1.0], "nice": false, "zero": false}}}},
          {"data": {"name": "boxesA"}, "mark": {"type": "bar", "color": "black", "fillOpacity": 0, "stroke": "black", "strokeWidth": 1.25, "size": 16},
           "encoding": {"y": {"field": "q1", "type": "quantitative", "scale": {"domain": [-0.1, 1.0], "nice": false, "zero": false}}, "y2": {"field": "q3"}}},
          {"data": {"name": "ptsA"}, "mark": {"type": "circle", "size": 28, "opacity": 0.55},
           "encoding": {"y": {"field": "v", "type": "quantitative", "scale": {"domain": [-0.1, 1.0], "nice": false, "zero": false}},
                        "color": {"field": "method", "type": "nominal", "scale": {"domain": ["FC", "eFC", "Triangles", "Scaffold"], "range": ["#1f77b4", "#138a13", "#e0191f", "#5b3fa0"]}, "legend": null}}}
        ]
      },
      {
        "width": 938, "height": 226,
        "view": {"stroke": null},
        "title": {"text": "b", "anchor": "start", "frame": "group", "dx": -53, "fontSize": 22, "fontWeight": "bold", "offset": -18},
        "encoding": {
          "x": {"field": "net", "type": "nominal", "scale": {"domain": ["VIS", "SM", "DA", "VA", "L", "FP", "DMN", "SC"], "paddingInner": 0.5, "paddingOuter": 0.03}, "axis": {"title": "Functional Network", "titleFontSize": 24, "titlePadding": 12, "labelAngle": -45, "labelAlign": "right", "labelBaseline": "top", "labelFontSize": 22, "labelPadding": 2}},
          "xOffset": {"field": "method", "type": "nominal", "scale": {"domain": ["FC", "eFC", "Triangles", "Scaffold"], "paddingInner": 0, "paddingOuter": 0}}
        },
        "layer": [
          {"data": {"name": "boxes"}, "mark": {"type": "rule", "color": "black", "strokeWidth": 1.5},
           "encoding": {"y": {"field": "q3", "type": "quantitative", "scale": {"domain": [-0.1, 1.0], "nice": false, "zero": false}, "axis": {"title": null, "labelFontSize": 22, "values": [0, 0.2, 0.4, 0.6, 0.8, 1.0], "format": ".1f"}}, "y2": {"field": "upper"}}},
          {"data": {"name": "boxes"}, "mark": {"type": "rule", "color": "black", "strokeWidth": 1.5},
           "encoding": {"y": {"field": "lower", "type": "quantitative", "scale": {"domain": [-0.1, 1.0], "nice": false, "zero": false}}, "y2": {"field": "q1"}}},
          {"data": {"name": "boxes"}, "mark": {"type": "tick", "color": "black", "thickness": 1.5, "size": 9},
           "encoding": {"y": {"field": "upper", "type": "quantitative", "scale": {"domain": [-0.1, 1.0], "nice": false, "zero": false}}}},
          {"data": {"name": "boxes"}, "mark": {"type": "tick", "color": "black", "thickness": 1.5, "size": 9},
           "encoding": {"y": {"field": "lower", "type": "quantitative", "scale": {"domain": [-0.1, 1.0], "nice": false, "zero": false}}}},
          {"data": {"name": "boxes"}, "mark": {"type": "tick", "color": "black", "thickness": 1.5, "size": 11.5},
           "encoding": {"y": {"field": "median", "type": "quantitative", "scale": {"domain": [-0.1, 1.0], "nice": false, "zero": false}}}},
          {"data": {"name": "boxes"}, "mark": {"type": "bar", "fillOpacity": 0, "stroke": "black", "strokeWidth": 1.5, "size": 11.5},
           "encoding": {"y": {"field": "q1", "type": "quantitative", "scale": {"domain": [-0.1, 1.0], "nice": false, "zero": false}}, "y2": {"field": "q3"},
                        "color": {"field": "method", "type": "nominal", "scale": {"domain": ["FC", "eFC", "Triangles", "Scaffold"], "range": ["#3a75a6", "#127a1b", "#c13b3c", "#6b5aa2"]},
                                  "legend": {"title": null, "orient": "none", "legendX": 134, "legendY": -29, "direction": "horizontal", "labelFontSize": 23, "labelColor": "#262626", "symbolType": "M-0.8125,-0.5H2.6875V0.5H-0.8125Z", "symbolSize": 1024, "symbolOpacity": 1, "symbolStrokeColor": "#222222", "symbolStrokeWidth": 1, "labelOffset": 34, "columnPadding": 49, "padding": 6, "strokeColor": "#d9d9d9", "fillColor": "white", "cornerRadius": 4,
                                             "encode": {"symbols": {"update": {"fillOpacity": {"value": 1}, "opacity": {"value": 1}, "stroke": {"value": "#222222"}, "strokeWidth": {"value": 1}}}}}}}},
          {"data": {"name": "pts"}, "mark": {"type": "circle", "size": 26, "opacity": 0.55},
           "encoding": {"y": {"field": "v", "type": "quantitative", "scale": {"domain": [-0.1, 1.0], "nice": false, "zero": false}},
                        "color": {"field": "method", "type": "nominal", "scale": {"domain": ["FC", "eFC", "Triangles", "Scaffold"], "range": ["#1f77b4", "#138a13", "#e0191f", "#5b3fa0"]}, "legend": null}}}
        ],
        "resolve": {"scale": {"color": "independent"}, "legend": {"color": "independent"}}
      }
    ],
    "spacing": 46,
    "bounds": "flush",
    "resolve": {"scale": {"color": "independent"}, "legend": {"color": "independent"}}
  },
  {
    "title": {"text": "c", "anchor": "start", "frame": "group", "dx": -112, "fontSize": 22, "fontWeight": "bold", "offset": -6},
    "hconcat": [
      {
        "width": 121, "height": 306,
        "title": {"text": "VIS", "fontSize": 24, "fontWeight": "normal", "offset": 8},
        "data": {"name": "heat"},
        "transform": [{"filter": "datum.net === 'VIS'"}],
        "encoding": {
          "x": {"field": "method", "type": "nominal", "scale": {"domain": ["FC", "eFC", "Triangles", "Scaffold"], "paddingInner": 0.1, "paddingOuter": 0.05}, "axis": {"title": null, "labelAngle": -45, "labelAlign": "right", "labelBaseline": "top", "labelFontSize": 20, "domain": false, "tickColor": "#3a3a3a", "labelPadding": 2}},
          "y": {"field": "beh", "type": "nominal", "scale": {"domain": ["Ep Mem", "Exec Func", "Fluid Intel", "Language", "Proc Speed", "Impulsivity", "Spatial Orient", "Sustained Attn", "Verb Ep Mem", "Working Mem"], "paddingInner": 0.1, "paddingOuter": 0.05}, "axis": {"title": null, "labelFontSize": 20, "domain": false, "labelPadding": 3}}
        },
        "layer": [
          {"mark": {"type": "rect"},
           "encoding": {"fill": {"field": "sal", "type": "nominal", "scale": {"domain": ["CS > 0.35", "CS < 0.35"], "range": ["#af7a56", "#529985"]},
                                 "legend": {"title": ["Behavioral", "Saliences"], "orient": "none", "legendX": -134, "legendY": 308.5, "titleFont": "DejaVu Sans", "titleFontWeight": "bold", "titleFontSize": 14.5, "titleColor": "#262626", "titleAlign": "center", "titleAnchor": "middle", "titleLineHeight": 16, "titlePadding": 6, "labelFont": "DejaVu Sans", "labelFontSize": 13, "labelColor": "#262626", "labelOffset": 14, "symbolType": "square", "symbolSize": 190, "rowPadding": 6, "padding": 6, "strokeColor": "#cccccc", "fillColor": "white", "cornerRadius": 4}}}},
          {"mark": {"type": "rect"},
           "encoding": {"color": {"field": "cs", "type": "quantitative", "scale": {"domain": [0.05, 0.34, 0.36, 0.65], "range": ["#5dbea8", "#437c70", "#c47c5a", "#9a6248"], "interpolate": "rgb"}, "legend": null}}}
        ]
      },
      {
        "width": 121, "height": 306,
        "title": {"text": "SM", "fontSize": 24, "fontWeight": "normal", "offset": 8},
        "data": {"name": "heat"},
        "transform": [{"filter": "datum.net === 'SM'"}],
        "mark": {"type": "rect"},
        "encoding": {
          "x": {"field": "method", "type": "nominal", "scale": {"domain": ["FC", "eFC", "Triangles", "Scaffold"], "paddingInner": 0.1, "paddingOuter": 0.05}, "axis": {"title": null, "labelAngle": -45, "labelAlign": "right", "labelBaseline": "top", "labelFontSize": 20, "domain": false, "tickColor": "#3a3a3a", "labelPadding": 2}},
          "y": {"field": "beh", "type": "nominal", "scale": {"domain": ["Ep Mem", "Exec Func", "Fluid Intel", "Language", "Proc Speed", "Impulsivity", "Spatial Orient", "Sustained Attn", "Verb Ep Mem", "Working Mem"], "paddingInner": 0.1, "paddingOuter": 0.05}, "axis": null},
          "color": {"field": "cs", "type": "quantitative", "scale": {"domain": [0.05, 0.34, 0.36, 0.65], "range": ["#5dbea8", "#437c70", "#c47c5a", "#9a6248"], "interpolate": "rgb"}, "legend": null}
        }
      },
      {
        "width": 121, "height": 306,
        "title": {"text": "DA", "fontSize": 24, "fontWeight": "normal", "offset": 8},
        "data": {"name": "heat"},
        "transform": [{"filter": "datum.net === 'DA'"}],
        "mark": {"type": "rect"},
        "encoding": {
          "x": {"field": "method", "type": "nominal", "scale": {"domain": ["FC", "eFC", "Triangles", "Scaffold"], "paddingInner": 0.1, "paddingOuter": 0.05}, "axis": {"title": null, "labelAngle": -45, "labelAlign": "right", "labelBaseline": "top", "labelFontSize": 20, "domain": false, "tickColor": "#3a3a3a", "labelPadding": 2}},
          "y": {"field": "beh", "type": "nominal", "scale": {"domain": ["Ep Mem", "Exec Func", "Fluid Intel", "Language", "Proc Speed", "Impulsivity", "Spatial Orient", "Sustained Attn", "Verb Ep Mem", "Working Mem"], "paddingInner": 0.1, "paddingOuter": 0.05}, "axis": null},
          "color": {"field": "cs", "type": "quantitative", "scale": {"domain": [0.05, 0.34, 0.36, 0.65], "range": ["#5dbea8", "#437c70", "#c47c5a", "#9a6248"], "interpolate": "rgb"}, "legend": null}
        }
      },
      {
        "width": 121, "height": 306,
        "title": {"text": "VA", "fontSize": 24, "fontWeight": "normal", "offset": 8},
        "data": {"name": "heat"},
        "transform": [{"filter": "datum.net === 'VA'"}],
        "mark": {"type": "rect"},
        "encoding": {
          "x": {"field": "method", "type": "nominal", "scale": {"domain": ["FC", "eFC", "Triangles", "Scaffold"], "paddingInner": 0.1, "paddingOuter": 0.05}, "axis": {"title": null, "labelAngle": -45, "labelAlign": "right", "labelBaseline": "top", "labelFontSize": 20, "domain": false, "tickColor": "#3a3a3a", "labelPadding": 2}},
          "y": {"field": "beh", "type": "nominal", "scale": {"domain": ["Ep Mem", "Exec Func", "Fluid Intel", "Language", "Proc Speed", "Impulsivity", "Spatial Orient", "Sustained Attn", "Verb Ep Mem", "Working Mem"], "paddingInner": 0.1, "paddingOuter": 0.05}, "axis": null},
          "color": {"field": "cs", "type": "quantitative", "scale": {"domain": [0.05, 0.34, 0.36, 0.65], "range": ["#5dbea8", "#437c70", "#c47c5a", "#9a6248"], "interpolate": "rgb"}, "legend": null}
        }
      },
      {
        "width": 121, "height": 306,
        "title": {"text": "L", "fontSize": 24, "fontWeight": "normal", "offset": 8},
        "data": {"name": "heat"},
        "transform": [{"filter": "datum.net === 'L'"}],
        "mark": {"type": "rect"},
        "encoding": {
          "x": {"field": "method", "type": "nominal", "scale": {"domain": ["FC", "eFC", "Triangles", "Scaffold"], "paddingInner": 0.1, "paddingOuter": 0.05}, "axis": {"title": null, "labelAngle": -45, "labelAlign": "right", "labelBaseline": "top", "labelFontSize": 20, "domain": false, "tickColor": "#3a3a3a", "labelPadding": 2}},
          "y": {"field": "beh", "type": "nominal", "scale": {"domain": ["Ep Mem", "Exec Func", "Fluid Intel", "Language", "Proc Speed", "Impulsivity", "Spatial Orient", "Sustained Attn", "Verb Ep Mem", "Working Mem"], "paddingInner": 0.1, "paddingOuter": 0.05}, "axis": null},
          "color": {"field": "cs", "type": "quantitative", "scale": {"domain": [0.05, 0.34, 0.36, 0.65], "range": ["#5dbea8", "#437c70", "#c47c5a", "#9a6248"], "interpolate": "rgb"}, "legend": null}
        }
      },
      {
        "width": 121, "height": 306,
        "title": {"text": "FP", "fontSize": 24, "fontWeight": "normal", "offset": 8},
        "data": {"name": "heat"},
        "transform": [{"filter": "datum.net === 'FP'"}],
        "mark": {"type": "rect"},
        "encoding": {
          "x": {"field": "method", "type": "nominal", "scale": {"domain": ["FC", "eFC", "Triangles", "Scaffold"], "paddingInner": 0.1, "paddingOuter": 0.05}, "axis": {"title": null, "labelAngle": -45, "labelAlign": "right", "labelBaseline": "top", "labelFontSize": 20, "domain": false, "tickColor": "#3a3a3a", "labelPadding": 2}},
          "y": {"field": "beh", "type": "nominal", "scale": {"domain": ["Ep Mem", "Exec Func", "Fluid Intel", "Language", "Proc Speed", "Impulsivity", "Spatial Orient", "Sustained Attn", "Verb Ep Mem", "Working Mem"], "paddingInner": 0.1, "paddingOuter": 0.05}, "axis": null},
          "color": {"field": "cs", "type": "quantitative", "scale": {"domain": [0.05, 0.34, 0.36, 0.65], "range": ["#5dbea8", "#437c70", "#c47c5a", "#9a6248"], "interpolate": "rgb"}, "legend": null}
        }
      },
      {
        "width": 121, "height": 306,
        "title": {"text": "DMN", "fontSize": 24, "fontWeight": "normal", "offset": 8},
        "data": {"name": "heat"},
        "transform": [{"filter": "datum.net === 'DMN'"}],
        "mark": {"type": "rect"},
        "encoding": {
          "x": {"field": "method", "type": "nominal", "scale": {"domain": ["FC", "eFC", "Triangles", "Scaffold"], "paddingInner": 0.1, "paddingOuter": 0.05}, "axis": {"title": null, "labelAngle": -45, "labelAlign": "right", "labelBaseline": "top", "labelFontSize": 20, "domain": false, "tickColor": "#3a3a3a", "labelPadding": 2}},
          "y": {"field": "beh", "type": "nominal", "scale": {"domain": ["Ep Mem", "Exec Func", "Fluid Intel", "Language", "Proc Speed", "Impulsivity", "Spatial Orient", "Sustained Attn", "Verb Ep Mem", "Working Mem"], "paddingInner": 0.1, "paddingOuter": 0.05}, "axis": null},
          "color": {"field": "cs", "type": "quantitative", "scale": {"domain": [0.05, 0.34, 0.36, 0.65], "range": ["#5dbea8", "#437c70", "#c47c5a", "#9a6248"], "interpolate": "rgb"}, "legend": null}
        }
      },
      {
        "width": 121, "height": 306,
        "title": {"text": "SC", "fontSize": 24, "fontWeight": "normal", "offset": 8},
        "data": {"name": "heat"},
        "transform": [{"filter": "datum.net === 'SC'"}],
        "mark": {"type": "rect"},
        "encoding": {
          "x": {"field": "method", "type": "nominal", "scale": {"domain": ["FC", "eFC", "Triangles", "Scaffold"], "paddingInner": 0.1, "paddingOuter": 0.05}, "axis": {"title": null, "labelAngle": -45, "labelAlign": "right", "labelBaseline": "top", "labelFontSize": 20, "domain": false, "tickColor": "#3a3a3a", "labelPadding": 2}},
          "y": {"field": "beh", "type": "nominal", "scale": {"domain": ["Ep Mem", "Exec Func", "Fluid Intel", "Language", "Proc Speed", "Impulsivity", "Spatial Orient", "Sustained Attn", "Verb Ep Mem", "Working Mem"], "paddingInner": 0.1, "paddingOuter": 0.05}, "axis": null},
          "color": {"field": "cs", "type": "quantitative", "scale": {"domain": [0.05, 0.34, 0.36, 0.65], "range": ["#5dbea8", "#437c70", "#c47c5a", "#9a6248"], "interpolate": "rgb"}, "legend": null}
        }
      }
    ],
    "spacing": 30.8,
    "bounds": "flush"
  }
],
"spacing": 367,
"bounds": "flush",
"resolve": {"scale": {"color": "independent", "fill": "independent"}, "legend": {"color": "independent", "fill": "independent"}}
}
